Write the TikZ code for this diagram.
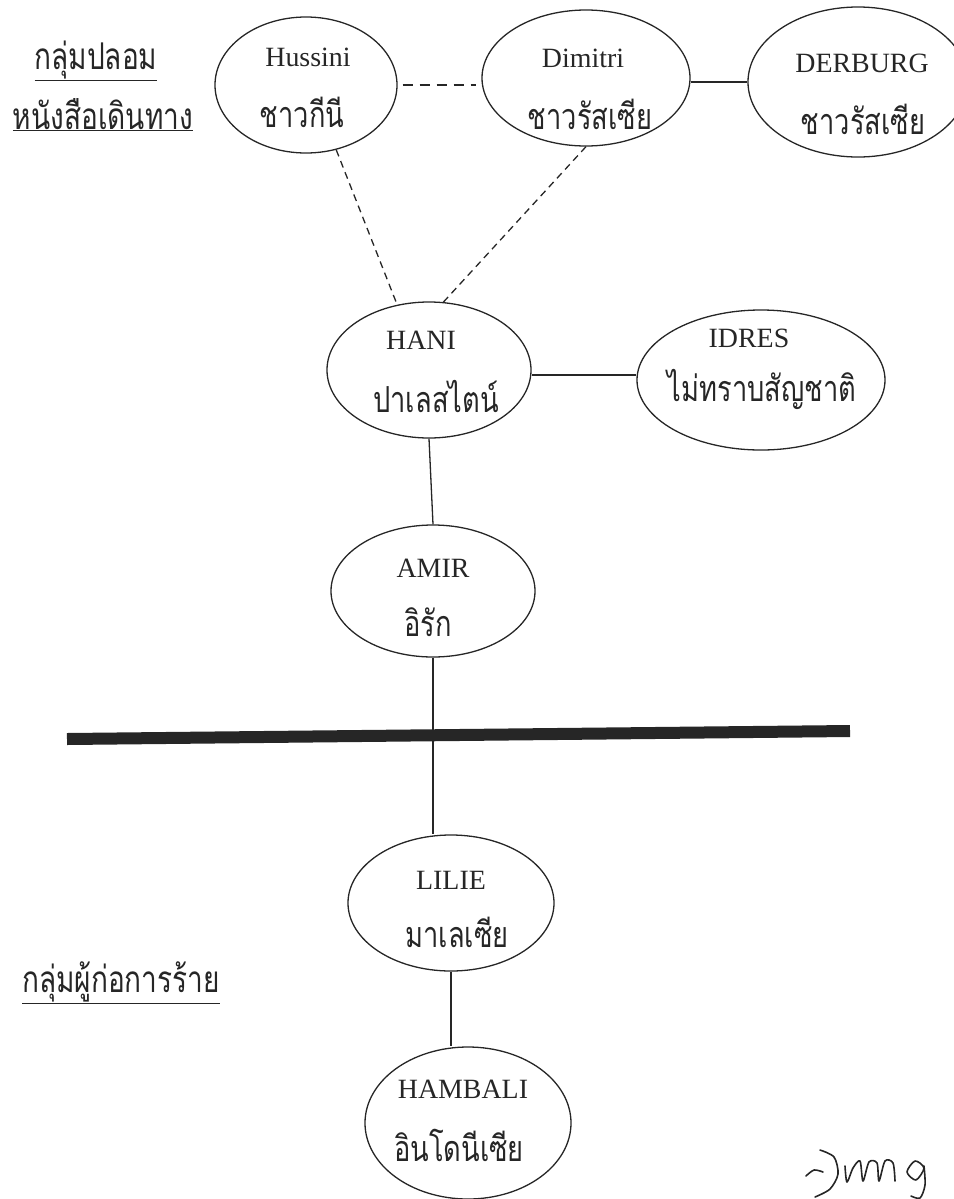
\documentclass[tikz,border=0pt]{standalone}
\usepackage{fontspec}
\setmainfont{Liberation Serif}
\newfontfamily\thai[Script=Thai,FakeStretch=0.76]{Loma}
\usetikzlibrary{shapes.geometric,calc}
\tikzset{
  ell/.style={draw=black!85, ellipse, inner sep=0pt, line width=1.3bp},
  nm/.style={font=\fontsize{28}{30}\selectfont, anchor=base, inner sep=0pt, text=black!85},
  th/.style={font=\thai\fontsize{36}{40}\selectfont, anchor=base, inner sep=0pt, text=black!85},
  grp/.style={font=\thai\fontsize{37}{40}\selectfont, anchor=base, inner sep=0pt, text=black!85},
  solidlink/.style={draw=black!85, line width=1.3bp},
  dashlink/.style={draw=black!85, line width=1.4bp, dash pattern=on 10bp off 7bp},
  finedash/.style={draw=black!85, line width=1.3bp, dash pattern=on 7bp off 5bp},
}
\begin{document}
\begin{tikzpicture}[x=1bp,y=-1bp]
\useasboundingbox (0,0) rectangle (954,1199);
\clip (0,0) rectangle (954,1199);
% group labels
\node[grp] (lbl1) at (96,69) {\underline{กลุ่มปลอม}};
\node[grp] (lbl2) at (103,129) {\underline{หนังสือเดินทาง}};
\node[grp] (lbl3) at (121,992) {\underline{กลุ่มผู้ก่อการร้าย}};
% ellipses
\node[ell, minimum width=182bp, minimum height=136bp] (hussini) at (306,85) {};
\node[nm] (hussini-n) at (308,66) {Hussini};
\node[th] (hussini-t) at (302,127) {ชาวกีนี};
\node[ell, minimum width=208bp, minimum height=136bp] (dimitri) at (586,78) {};
\node[nm] (dimitri-n) at (583,67) {Dimitri};
\node[th] (dimitri-t) at (590,129) {ชาวรัสเซีย};
\node[ell, minimum width=220bp, minimum height=150bp] (derburg) at (858,82) {};
\node[nm] (derburg-n) at (862,72) {DERBURG};
\node[th] (derburg-t) at (863,134) {ชาวรัสเซีย};
\node[ell, minimum width=204bp, minimum height=136bp] (hani) at (429,370) {};
\node[nm] (hani-n) at (421,349) {HANI};
\node[th] (hani-t) at (436,412) {ปาเลสไตน์};
\node[ell, minimum width=248bp, minimum height=140bp] (idres) at (761,380) {};
\node[nm] (idres-n) at (749,347) {IDRES};
\node[th] (idres-t) at (762,401) {ไม่ทราบสัญชาติ};
\node[ell, minimum width=204bp, minimum height=132bp] (amir) at (433,591) {};
\node[nm] (amir-n) at (433,577) {AMIR};
\node[th] (amir-t) at (428,636) {อิรัก};
\node[ell, minimum width=206bp, minimum height=136bp] (lilie) at (451,903) {};
\node[nm] (lilie-n) at (451,889) {LILIE};
\node[th] (lilie-t) at (457,947) {มาเลเซีย};
\node[ell, minimum width=206bp, minimum height=152bp] (hambali) at (468,1123) {};
\node[nm] (hambali-n) at (463,1098) {HAMBALI};
\node[th] (hambali-t) at (459,1161) {อินโดนีเซีย};
% connectors
\draw[dashlink, shorten <=5bp, shorten >=5bp] (hussini.east) -- (hussini.east -| dimitri.west);
\draw[solidlink] (derburg.west -| dimitri.east) -- (derburg.west);
\draw[finedash] (hussini.-65) -- (hani.116);
\draw[finedash] (dimitri.south) -- (hani.78);
\draw[solidlink] (hani.east |- 0,375) -- (idres.west |- 0,375);
\draw[solidlink] (hani.south) -- (amir.north);
\draw[solidlink] (amir.south) -- (amir.south |- lilie.north);
\draw[solidlink] (lilie.south) -- (lilie.south |- hambali.north);
% thick separating bar
\coordinate (barl) at (67,739);
\coordinate (barr) at (850,731);
\draw[line width=12bp, black!85] (barl) -- (barr);
% signature
\begin{scope}[line width=1.6bp, line cap=round, line join=round, black!85]
\draw plot[smooth] coordinates {(806,1176) (814,1170) (823,1172)};
\draw plot[smooth] coordinates {(820,1150) (834,1157) (838,1174) (830,1189) (815,1197)};
\draw plot[smooth] coordinates {(845,1166) (847,1182) (853,1168) (860,1161) (863,1181) (869,1162) (877,1163) (879,1181) (885,1161) (893,1163) (895,1181)};
\draw plot[smooth cycle] coordinates {(915,1161) (924,1168) (916,1180) (907,1172)};
\draw plot[smooth] coordinates {(924,1166) (925,1185) (920,1198) (911,1196)};
\end{scope}
\end{tikzpicture}
\end{document}
